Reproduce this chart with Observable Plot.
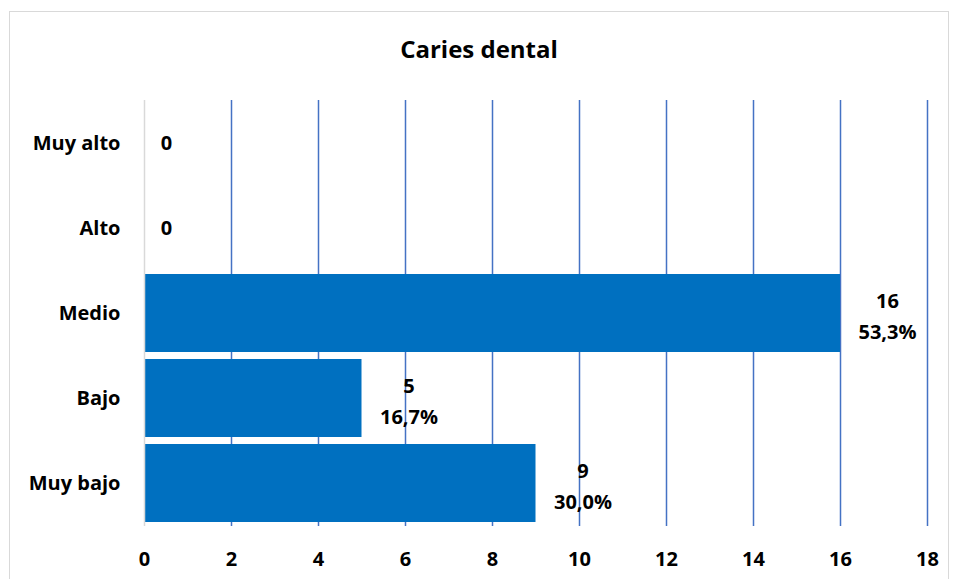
<!DOCTYPE html>
<html>
<head>
<meta charset="utf-8">
<script src="https://cdn.jsdelivr.net/npm/d3@7"></script>
<script src="https://cdn.jsdelivr.net/npm/@observablehq/plot@0.6"></script>
<style>
  html, body { margin: 0; padding: 0; background: #fff; }
  body { width: 954px; height: 579px; position: relative; overflow: hidden; font-family: "Open Sans", Lato, sans-serif; }
  #frame { position: absolute; left: 9px; top: 11px; width: 940px; height: 580px; border: 1.5px solid #d9d9d9; box-sizing: border-box; }
  #title { position: absolute; left: 0; top: 32px; width: 954px; text-align: center; font-weight: bold; font-size: 24px; line-height: 34px; color: #000; padding-left: 2px; }
  #chart { position: absolute; left: 0; top: 80px; }
</style>
</head>
<body>
<div id="frame"></div>
<div id="title">Caries dental</div>
<div id="chart"></div>
<script>
const categories = ["Muy alto", "Alto", "Medio", "Bajo", "Muy bajo"];
const counts = [0, 0, 16, 5, 9];
const xTicks = [0, 2, 4, 6, 8, 10, 12, 14, 16, 18];

const total = d3.sum(counts);
const data = categories.map((c, i) => ({
  cat: c,
  n: counts[i],
  label: counts[i] === 0 ? String(counts[i]) : `${counts[i]}\n${(counts[i] / total * 100).toFixed(1).replace(".", ",")}%`
}));

const chart = Plot.plot({
  width: 954,
  height: 499,
  marginLeft: 144,
  marginRight: 27,
  marginTop: 20,
  marginBottom: 53,
  style: { fontFamily: "'Open Sans', Lato, sans-serif", fontSize: "20px", fontWeight: "bold", color: "#000", background: "transparent" },
  x: { domain: [0, 18], ticks: xTicks, label: null },
  y: { domain: categories, paddingInner: 0.08, paddingOuter: 0.04, label: null },
  marks: [
    Plot.ruleX(xTicks.filter(d => d !== 0), { stroke: "#4472C4", strokeWidth: 1.5 }),
    Plot.barX(data, { x: "n", y: "cat", fill: "#0070C0" }),
    Plot.ruleX([0], { stroke: "#d9d9d9", strokeWidth: 1.5 }),
    Plot.axisX({ ticks: xTicks, tickSize: 0, tickPadding: 25, fontSize: 20, fontWeight: "bold", tickFormat: d => String(d) }),
    Plot.axisY({ tickSize: 0, tickPadding: 24, fontSize: 20, fontWeight: "bold" }),
    Plot.text(data.filter(d => d.n !== 0), { x: "n", y: "cat", text: "label", dx: 47, textAnchor: "middle", lineAnchor: "middle", lineHeight: 1.55, fontSize: 20, fontWeight: "bold", fill: "#000" }),
    Plot.text(data.filter(d => d.n === 0), { x: "n", y: "cat", text: "label", dx: 22, textAnchor: "middle", lineAnchor: "middle", fontSize: 20, fontWeight: "bold", fill: "#000" })
  ]
});
document.getElementById("chart").appendChild(chart);
</script>
</body>
</html>
